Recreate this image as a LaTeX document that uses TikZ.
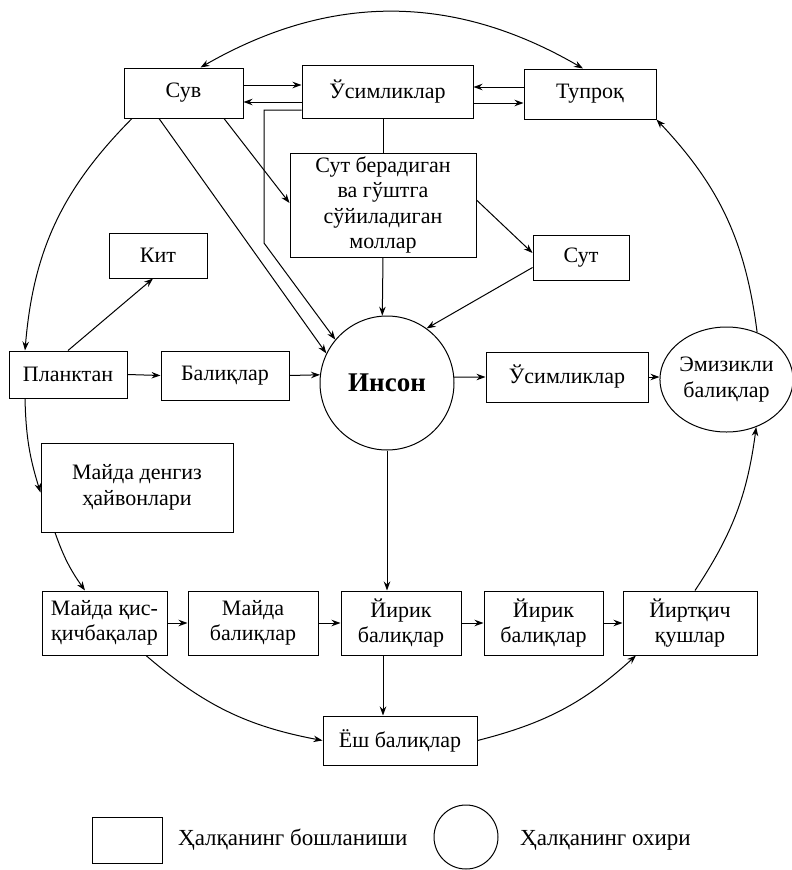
\documentclass[tikz,border=0pt]{standalone}
\usepackage{fontspec}
\setmainfont{Liberation Serif}
\usetikzlibrary{arrows.meta,shapes.geometric,calc}
\begin{document}
\begin{tikzpicture}[x=1pt,y=-1pt,
  every node/.style={font=\fontsize{22}{25.5}\selectfont},
  box/.style={draw, line width=1pt, inner sep=0pt, align=center},
  arr/.style={-{Stealth[length=9pt,width=6.5pt]}, line width=1pt},
  arrboth/.style={{Stealth[length=9pt,width=6.5pt]}-{Stealth[length=9pt,width=6.5pt]}, line width=1pt},
  ln/.style={line width=1pt},
  legtext/.style={anchor=west, inner sep=0pt, font=\fontsize{23}{26}\selectfont}]
\useasboundingbox (0,0) rectangle (792,870);
\fill[white] (0,0) rectangle (792,870);

% nodes
\node[box, minimum width=119pt, minimum height=50pt] (suv) at (183.5,93) {Сув};
\node[box, minimum width=171pt, minimum height=53pt] (usim) at (387.5,91.5) {Ўсимликлар};
\node[box, minimum width=132pt, minimum height=50pt] (tup) at (590,94) {Тупроқ};
\node[box, minimum width=186pt, minimum height=104pt] (sutb) at (383,205) {Сут берадиган\\ва гўштга\\сўйиладиган\\моллар};
\node[box, minimum width=96pt, minimum height=45pt] (sut) at (581,257.5) {Сут};
\node[box, minimum width=98pt, minimum height=45pt] (kit) at (158,255.5) {Кит};
\node[box, minimum width=118pt, minimum height=47pt] (plank) at (68,374.5) {Планктан};
\node[box, minimum width=128pt, minimum height=49pt] (bal) at (225,375.5) {Балиқлар};
\node[draw, circle, line width=1pt, minimum size=134pt, inner sep=0pt, font=\bfseries\fontsize{27}{30}\selectfont] (inson) at (387,383) {Инсон};
\node[box, minimum width=162pt, minimum height=50pt] (usim2) at (567,377) {Ўсимликлар};
\node[draw, ellipse, line width=1pt, minimum width=127pt, minimum height=105pt, inner sep=0pt, align=center] (emiz) at (726.5,379.5) {Эмизикли\\балиқлар};
\node[box, minimum width=192pt, minimum height=89pt] (maida) at (137,487.5) {Майда денгиз\\ҳайвонлари};
\node[box, minimum width=125pt, minimum height=64pt] (qisq) at (104.5,623) {Майда қис-\\қичбақалар};
\node[box, minimum width=130pt, minimum height=64pt] (mbal) at (253,623) {Майда\\балиқлар};
\node[box, minimum width=120pt, minimum height=64pt] (yir1) at (401,623) {Йирик\\балиқлар};
\node[box, minimum width=119pt, minimum height=64pt] (yir2) at (543.5,623) {Йирик\\балиқлар};
\node[box, minimum width=134pt, minimum height=64pt] (yirt) at (690,623) {Йиртқич\\қушлар};
\node[box, minimum width=154pt, minimum height=49pt] (yosh) at (400,740.5) {Ёш балиқлар};

% legend
\node[box, minimum width=70pt, minimum height=46pt] (lbox) at (127,840) {};
\node[legtext] (ltext1) at (178,840) {Ҳалқанинг бошланиши};
\node[draw, circle, line width=1pt, minimum size=64pt, inner sep=0pt] (lcirc) at (466,837) {};
\node[legtext] (ltext2) at (520,840) {Ҳалқанинг охири};

\coordinate (bendA) at (264,243);

% outer cycle
\draw[arrboth] ([xshift=17pt]suv.north) to[bend left=30] ([xshift=-7pt]tup.north);
\draw[arr] (emiz.57) to[bend right=18] (tup.south east);
\draw[arr] ([xshift=5pt]yirt.north) to[bend right=13] (emiz.-58);
\draw[arr] (yosh.east) to[bend right=14] ([xshift=-54pt]yirt.south);
\draw[arr] ([xshift=41.5pt]qisq.south) to[bend right=15] (yosh.west);
\draw[arr] ([xshift=-82pt]maida.south) to[bend right=8] ([xshift=-19.5pt]qisq.north);
\draw[arr] ([xshift=-43pt]plank.south) to[bend right=8] ([yshift=-5pt]maida.west);
\draw[arr] ([xshift=-51.5pt]suv.south) to[bend right=20] ([xshift=-43pt]plank.north);

% top part
\draw[arr] ([xshift=-24.5pt]suv.south) -- (inson.154);
\draw[arr] ([yshift=-18.5pt]usim.west) -| (bendA) -- (inson.140);
\draw[arr] ([xshift=40.5pt]suv.south) -- ([yshift=2pt]sutb.west);
\draw[arr] ([yshift=8pt]suv.east) -- ([yshift=8pt]suv.east -| usim.west);
\draw[arr] ([yshift=-10.5pt]usim.west) -- ([yshift=-10.5pt]usim.west -| suv.east);
\draw[arr] ([yshift=7pt]tup.west) -- ([yshift=7pt]tup.west -| usim.east);
\draw[arr] ([yshift=-11.5pt]usim.east) -- ([yshift=-11.5pt]usim.east -| tup.west);
\draw[ln] (sutb.north |- usim.south) -- (sutb.north);
\draw[arr] (sutb.south) -- (inson.94);
\draw[arr] ([yshift=5pt]sutb.east) -- ([yshift=4.5pt]sut.west);
\draw[arr] ([yshift=-10pt]sut.west) -- (inson.54);

% middle
\draw[arr] (plank.north) -- ([xshift=-5pt]kit.south);
\draw[arr] (plank.east) -- (bal.west);
\draw[arr] (bal.east) -- (inson.173);
\draw[arr] (inson.5) -- (usim2.west);
\draw[arr] (usim2.east) -- (usim2.east -| emiz.west);
\draw[arr] (inson.south) -- (inson.south |- yir1.north);
\draw[arr] ([xshift=-18pt]yir1.south) -- ([xshift=-18pt]yir1.south |- yosh.north);

% bottom row
\draw[arr] (qisq.east) -- (mbal.west);
\draw[arr] (mbal.east) -- (yir1.west);
\draw[arr] (yir1.east) -- (yir2.west);
\draw[arr] (yir2.east) -- (yirt.west);
\end{tikzpicture}
\end{document}
